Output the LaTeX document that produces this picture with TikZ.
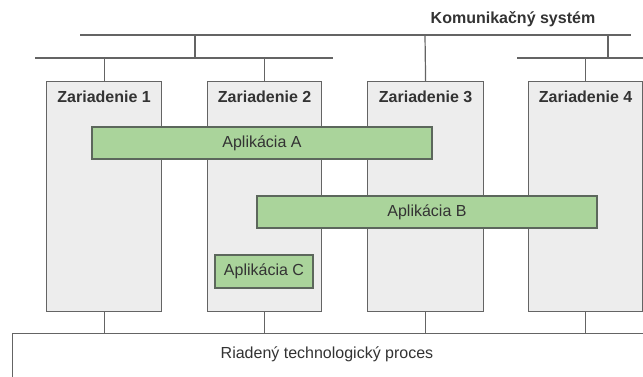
\documentclass[tikz,border=0pt]{standalone}
\usepackage{fontspec}
\setmainfont{Liberation Sans}
\definecolor{lineC}{HTML}{646464}
\definecolor{devFill}{HTML}{EDEDED}
\definecolor{appFill}{HTML}{AAD49B}
\definecolor{appLine}{HTML}{5C675C}
\definecolor{txt}{HTML}{333333}
\tikzset{
  wire/.style={draw=lineC, line width=1.2pt},
  devbox/.style={rectangle, draw=lineC, fill=devFill, line width=1.2pt, anchor=north west, inner sep=0pt},
  devlabel/.style={font=\fontsize{16}{18}\selectfont\bfseries, text=txt, anchor=north, inner sep=0pt},
  appbox/.style={rectangle, draw=appLine, fill=appFill, line width=1.2pt, inner sep=0pt, font=\fontsize{16}{18}\selectfont, text=txt},
  procbox/.style={rectangle, draw=lineC, fill=white, line width=1.2pt, anchor=north west, inner sep=0pt},
}
\begin{document}
\begin{tikzpicture}[x=1pt, y=-1pt]
\clip (0,0) rectangle (643,376);
\fill[white] (0,0) rectangle (643,376);
% title
\node[font=\fontsize{16}{18}\selectfont\bfseries, text=txt] (title) at (513,19) {Komunikačný systém};
% bus coordinates
\coordinate (tl) at (80,35);
\coordinate (tr) at (631,35);
\coordinate (ll) at (35,58);
\coordinate (lr) at (333,58);
\coordinate (rl) at (517,58);
\coordinate (rr) at (650,58);
\coordinate (j1) at (195,35);
\coordinate (j1b) at (195,58);
\coordinate (j2) at (425,35);
\coordinate (j3) at (608,35);
\coordinate (j3b) at (608,58);
% devices
\node[devbox, minimum width=115pt, minimum height=230pt] (d1) at (46,81) {};
\node[devbox, minimum width=114pt, minimum height=230pt] (d2) at (207,81) {};
\node[devbox, minimum width=116pt, minimum height=230pt] (d3) at (367,81) {};
\node[devbox, minimum width=114pt, minimum height=230pt] (d4) at (528,81) {};
\node[devlabel] (l1) at ([yshift=-10pt]d1.north) {Zariadenie 1};
\node[devlabel] (l2) at ([yshift=-10pt]d2.north) {Zariadenie 2};
\node[devlabel] (l3) at ([yshift=-10pt]d3.north) {Zariadenie 3};
\node[devlabel] (l4) at ([yshift=-10pt]d4.north) {Zariadenie 4};
% process
\node[procbox, minimum width=660pt, minimum height=80pt] (proc) at (12,333) {};
\node[font=\fontsize{16}{18}\selectfont, text=txt] (proctext) at (327,354) {Riadený technologický proces};
% wires
\draw[wire] (tl) -- (tr);
\draw[wire] (ll) -- (lr);
\draw[wire] (rl) -- (rr);
\draw[wire] (j1) -- (j1b);
\draw[wire] (j3) -- (j3b);
\draw[wire] (j2) -- (d3.north);
\draw[wire] (d1.north |- ll) -- (d1.north);
\draw[wire] (d2.north |- ll) -- (d2.north);
\draw[wire] (d4.north |- rl) -- (d4.north);
\foreach \d in {d1,d2,d3,d4} {
  \draw[wire] (\d.south) -- (\d.south |- proc.north);
}
% applications
\node[appbox, minimum width=340pt, minimum height=32pt] (appA) at (262,143) {Aplikácia A};
\node[appbox, minimum width=340pt, minimum height=32pt] (appB) at (427,212) {Aplikácia B};
\node[appbox, minimum width=98pt, minimum height=33pt] (appC) at (264,271.5) {Aplikácia C};
\end{tikzpicture}
\end{document}
